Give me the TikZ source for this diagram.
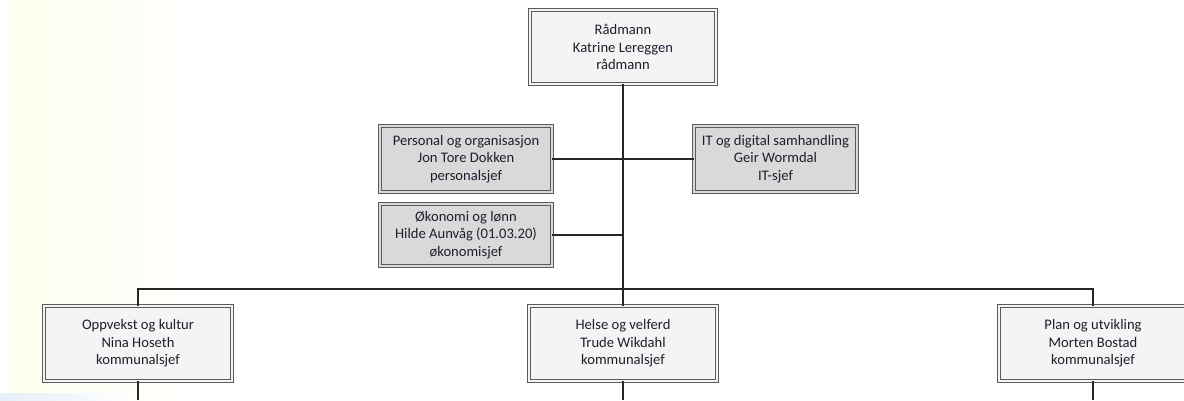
\documentclass[tikz,border=0pt]{standalone}
\usepackage{fontspec}
\setmainfont{Carlito}
\usetikzlibrary{shadows}
\definecolor{txt}{HTML}{1E1E2E}
\definecolor{bord}{HTML}{5A5A5A}
\definecolor{boxw}{HTML}{F4F4F4}
\definecolor{boxg}{HTML}{D9D9D9}
\definecolor{bgy}{HTML}{FFFFF0}
\definecolor{bgb}{HTML}{E6EEF8}
\tikzset{
  orgbox/.style={draw=bord, line width=0.9pt, double=#1, double distance=1.6pt,
    fill=#1, align=center, text=txt, inner sep=0pt,
    font=\fontsize{14.6}{17.5}\selectfont,
    drop shadow={shadow xshift=2pt, shadow yshift=2pt, opacity=0.35, fill=gray}},
  link/.style={draw=black!85, line width=1.4pt}
}
\begin{document}
\begin{tikzpicture}[x=1pt,y=-1pt]
\useasboundingbox (0,0) rectangle (1184,400);
\fill[white] (0,0) rectangle (1184,400);
\fill[left color=bgy, right color=white] (8,0) rectangle (210,400);
\fill[left color=bgb, right color=white] (0,393) rectangle (135,400);

\node[orgbox=boxw, minimum width=186pt, minimum height=74pt] (top) at (623,47) {Rådmann\\Katrine Lereggen\\rådmann};
\node[orgbox=boxg, minimum width=172pt, minimum height=66pt] (pers) at (466,159) {Personal og organisasjon\\Jon Tore Dokken\\personalsjef};
\node[orgbox=boxg, minimum width=163pt, minimum height=66pt] (it) at (775.5,159) {IT og digital samhandling\\Geir Wormdal\\IT-sjef};
\node[orgbox=boxg, minimum width=172pt, minimum height=62pt] (oko) at (466,235) {Økonomi og lønn\\Hilde Aunvåg (01.03.20)\\økonomisjef};
\node[orgbox=boxw, minimum width=188pt, minimum height=75pt] (left) at (138,343.5) {Oppvekst og kultur\\Nina Hoseth\\kommunalsjef};
\node[orgbox=boxw, minimum width=188pt, minimum height=75pt] (mid) at (623,343.5) {Helse og velferd\\Trude Wikdahl\\kommunalsjef};
\node[orgbox=boxw, minimum width=188pt, minimum height=75pt] (right) at (1093,343.5) {Plan og utvikling\\Morten Bostad\\kommunalsjef};

\coordinate (busL) at (138,289);
\coordinate (busR) at (1093,289);
\coordinate (bot) at (0,400);

\draw[link] (top.south) -- (mid.north);
\draw[link] (pers.east) -- (pers.east -| top.south);
\draw[link] (it.west) -- (it.west -| top.south);
\draw[link] (oko.east) -- (oko.east -| top.south);
\draw[link] (left.north) -- (busL) -- (busR) -- (right.north);
\draw[link] (left.south) -- (left.south |- bot);
\draw[link] (mid.south) -- (mid.south |- bot);
\draw[link] (right.south) -- (right.south |- bot);
\end{tikzpicture}
\end{document}
